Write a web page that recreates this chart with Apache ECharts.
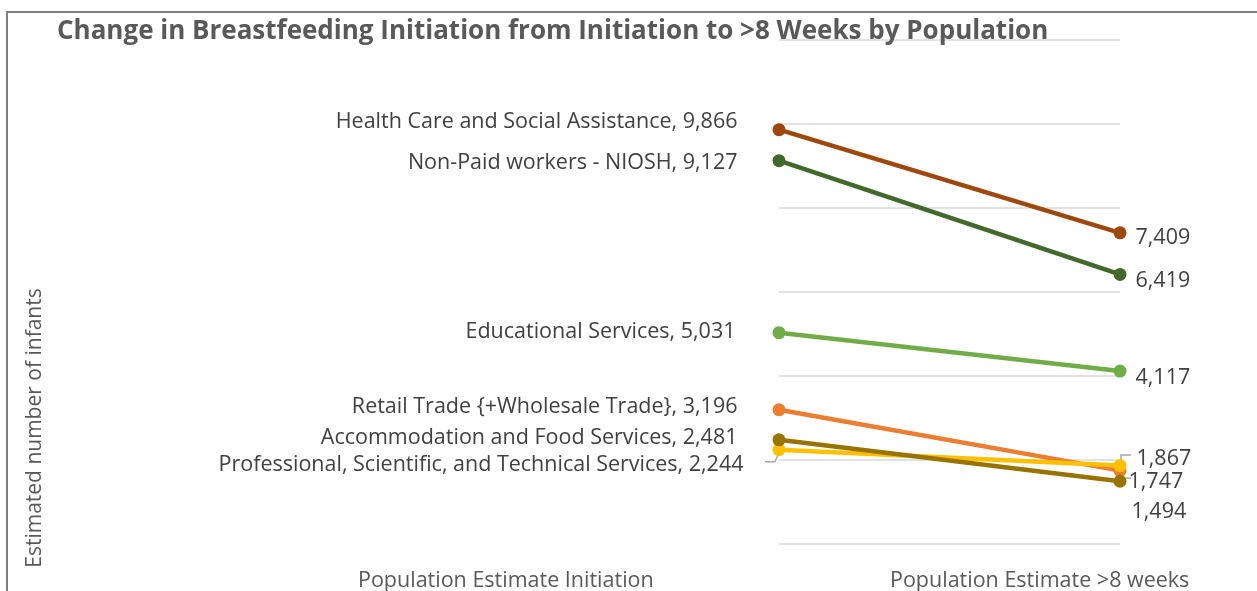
<!DOCTYPE html>
<html>
<head>
<meta charset="utf-8">
<script src="https://cdn.jsdelivr.net/npm/echarts@6/dist/echarts.min.js"></script>
<style>
html,body{margin:0;padding:0;background:#fff;}
#chart{width:1257px;height:591px;}
</style>
</head>
<body>
<div id="chart"></div>
<script>
const categories = ['Population Estimate Initiation', 'Population Estimate >8 weeks'];
const seriesNames = [
  'Health Care and Social Assistance',
  'Non-Paid workers - NIOSH',
  'Educational Services',
  'Retail Trade {+Wholesale Trade}',
  'Professional, Scientific, and Technical Services',
  'Accommodation and Food Services'
];
const initiationValues = [9866, 9127, 5031, 3196, 2244, 2481];
const weeks8Values = [7409, 6419, 4117, 1747, 1867, 1494];
const yMin = 0, yMax = 12000, yInterval = 2000;

const colors = ['#9E480E', '#43682B', '#70AD47', '#ED7D31', '#FFC000', '#997300'];
// label nudges (style only): [dx, dy]
const leftNudge = [[0, -8], [0, 2], [-2, -1], [0, -3], [6, 15], [0, -2]];
const rightNudge = [[0, 5], [0, 6], [0, 7], [-7, 11], [1, -7], [-4, 31]];

const FONT = '"Open Sans"';
const fmt = v => v.toLocaleString('en-US');

const chart = echarts.init(document.getElementById('chart'));

const series = seriesNames.map((name, i) => ({
  name: name,
  type: 'line',
  symbol: 'circle',
  symbolSize: 13,
  z: 2 + i,
  lineStyle: { width: 4.5, color: colors[i] },
  itemStyle: { color: colors[i] },
  data: [
    {
      value: initiationValues[i],
      label: {
        show: true, position: 'left', distance: 35,
        offset: leftNudge[i],
        formatter: name + ', ' + fmt(initiationValues[i])
      }
    },
    {
      value: weeks8Values[i],
      label: {
        show: true, position: 'right', distance: 9,
        offset: rightNudge[i],
        formatter: fmt(weeks8Values[i])
      }
    }
  ],
  label: { color: '#404040', fontFamily: FONT, fontSize: 21.5 },
  emphasis: { disabled: true },
  animation: false
}));

chart.setOption({
  animation: false,
  grid: { left: 779, right: 137, top: 40, bottom: 47 },
  title: {
    text: 'Change in Breastfeeding Initiation from Initiation to >8 Weeks by Population',
    left: 57, top: 19, padding: 0,
    textStyle: { fontFamily: FONT, fontWeight: 'bold', fontSize: 26, color: '#595959' }
  },
  xAxis: {
    type: 'category', data: categories, boundaryGap: false,
    axisLine: { show: false }, axisTick: { show: false }, axisLabel: { show: false },
    splitLine: { show: false }
  },
  yAxis: {
    type: 'value', min: yMin, max: yMax, interval: yInterval,
    axisLine: { show: false }, axisTick: { show: false }, axisLabel: { show: false },
    splitLine: { lineStyle: { color: '#d9d9d9', width: 1.5 } }
  },
  series: series
});

// leader lines computed from the library's coordinate conversion
function px(ci, v) { return chart.convertToPixel({ gridIndex: 0 }, [ci, v]); }
const P = px(0, initiationValues[4]);
const Q = px(1, weeks8Values[4]);
const R = px(1, weeks8Values[3]);
const lead = { stroke: '#a6a6a6', lineWidth: 1.5, fill: null };

chart.setOption({
  graphic: [
    { type: 'rect', shape: { x: 7, y: 12, width: 1400, height: 800 }, style: { stroke: '#7f7f7f', lineWidth: 2, fill: null }, silent: true },
    { type: 'polyline', shape: { points: [[P[0] - 14, P[1] + 12], [P[0] - 4, P[1] + 12], [P[0] - 1, P[1] + 5]] }, style: lead, z: 1 },
    { type: 'polyline', shape: { points: [[Q[0] + 1, Q[1] - 4], [Q[0] + 1, Q[1] - 10.5], [Q[0] + 11, Q[1] - 10.5]] }, style: lead, z: 1 },
    { type: 'polyline', shape: { points: [[R[0] + 2, R[1] + 7.5], [R[0] + 11, R[1] + 7.5]] }, style: lead, z: 1 },
    { type: 'text', left: 358, top: 570, style: { text: categories[0], font: '21.5px ' + FONT, fill: '#595959' } },
    { type: 'text', left: 890, top: 570, style: { text: categories[1], font: '21.5px ' + FONT, fill: '#595959' } },
    { type: 'text', x: 35, y: 428, rotation: Math.PI / 2, style: { text: 'Estimated number of infants', font: '21px ' + FONT, fill: '#595959', align: 'center', verticalAlign: 'middle' } }
  ]
});
</script>
</body>
</html>
